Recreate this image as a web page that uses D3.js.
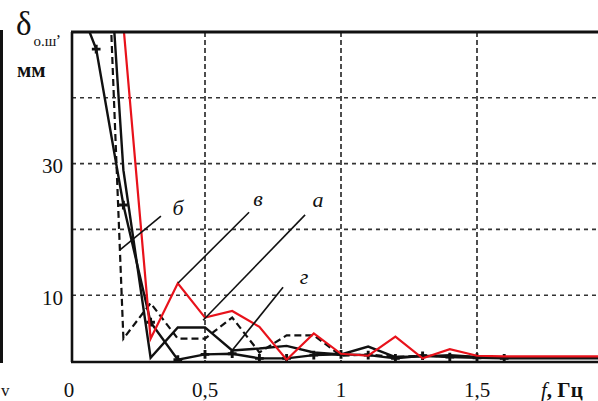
<!DOCTYPE html>
<html>
<head>
<meta charset="utf-8">
<script src="https://cdn.jsdelivr.net/npm/d3@7/dist/d3.min.js"></script>
<style>
  html, body { margin: 0; padding: 0; background: #fff; }
  svg { display: block; }
  text { font-family: "Liberation Serif", "DejaVu Serif", serif; fill: #111; }
</style>
</head>
<body>
<svg id="chart" width="598" height="401"></svg>
<script>
// Frequency grid, Hz
const freq = [0, 0.1, 0.2, 0.3, 0.4, 0.5, 0.6, 0.7, 0.8, 0.9, 1.0,
              1.1, 1.2, 1.3, 1.4, 1.5, 1.6, 1.7, 1.8, 1.9, 2.0];

// Deviation δ_о.ш, mm, for each variant
const curveA = [null, 92, 29, 0.5, 5.1, 5.1, 1.6, 1.9, 2.3, 1.3, 1.0,
                2.2, 0.6, 0.7, 0.9, 0.6, 0.5, 0.5, 0.5, 0.5, 0.5];
const curveB = [null, 108, 3.4, 8.8, 3.4, 3.4, 6.6, 1.3, 3.9, 3.9, 0.8,
                1.0, 0.6, 0.8, 0.7, 0.6, 0.6, 0.6, 0.6, 0.6, 0.6];
const curveV = [null, null, 51, 3.4, 11.8, 6.6, 7.6, 5.2, 0.2, 4.2, 1.1,
                0.8, 3.7, 0.4, 1.8, 0.8, 0.7, 0.7, 0.7, 0.7, 0.7];
const curveG = [58, 47.4, 23.7, 5.9, 0.2, 1.0, 1.1, 0.4, 0.4, 0.9, 1.0,
                0.9, 0.4, 0.8, 0.6, 0.5, 0.4, 0.4, 0.4, 0.4, 0.4];

const xTickValues = [0, 0.5, 1, 1.5];
const xTickLabels = ["0", "0,5", "1", "1,5"];
const yTickValues = [10, 30];
const yTickLabels = ["10", "30"];
const xGridValues = [0.5, 1, 1.5];
const yGridValues = [10, 20, 30, 40];

const svg = d3.select("#chart");

const x = d3.scaleLinear().domain([0, 2]).range([69, 613]);
const y = d3.scaleLinear().domain([0, 50]).range([361, 32]);

const frameLeft = 72;
const frameRight = 640;

// clip region for the plotted curves
svg.append("defs").append("clipPath").attr("id", "plotClip")
  .append("rect")
  .attr("x", frameLeft).attr("y", y(50))
  .attr("width", frameRight - frameLeft).attr("height", y(0) - y(50));

// grid
const grid = svg.append("g");
grid.selectAll("line.hg").data(yGridValues).join("line")
  .attr("class", "hg")
  .attr("x1", frameLeft).attr("x2", frameRight)
  .attr("y1", d => y(d)).attr("y2", d => y(d))
  .attr("stroke", "#333").attr("stroke-width", 1.6)
  .attr("stroke-dasharray", "4,4");
grid.selectAll("line.vg").data(xGridValues).join("line")
  .attr("class", "vg")
  .attr("x1", d => x(d)).attr("x2", d => x(d))
  .attr("y1", y(50)).attr("y2", y(0))
  .attr("stroke", "#222").attr("stroke-width", 1.6)
  .attr("stroke-dasharray", "5,3");

// curves
const plot = svg.append("g").attr("clip-path", "url(#plotClip)");
const line = d3.line()
  .defined(d => d[1] !== null)
  .x(d => x(d[0])).y(d => y(d[1]));
const pts = arr => freq.map((f, i) => [f, arr[i]]);

plot.append("path").datum(pts(curveB))
  .attr("d", line).attr("fill", "none")
  .attr("stroke", "#111").attr("stroke-width", 2.2)
  .attr("stroke-dasharray", "7,4");
plot.append("path").datum(pts(curveA))
  .attr("d", line).attr("fill", "none")
  .attr("stroke", "#111").attr("stroke-width", 2.4);
plot.append("path").datum(pts(curveG))
  .attr("d", line).attr("fill", "none")
  .attr("stroke", "#111").attr("stroke-width", 2.4);
plot.selectAll("path.mk").data(pts(curveG).filter(d => d[0] > 0 && d[0] <= 1.6))
  .join("path").attr("class", "mk")
  .attr("transform", d => `translate(${x(d[0])},${y(d[1])})`)
  .attr("d", d3.symbol().type(d3.symbolCross).size(42))
  .attr("fill", "#111");
plot.append("path").datum(pts(curveV))
  .attr("d", line).attr("fill", "none")
  .attr("stroke", "#e8121b").attr("stroke-width", 2.2);

// frame
const frame = svg.append("g").attr("stroke", "#111").attr("fill", "none");
frame.append("line").attr("x1", frameLeft - 1).attr("x2", frameRight)
  .attr("y1", y(50)).attr("y2", y(50)).attr("stroke-width", 3.2);
frame.append("line").attr("x1", frameLeft).attr("x2", frameLeft)
  .attr("y1", y(50)).attr("y2", y(0) + 1).attr("stroke-width", 2.6);
frame.append("line").attr("x1", frameLeft - 1).attr("x2", frameRight)
  .attr("y1", y(0) + 1).attr("y2", y(0) + 1).attr("stroke-width", 2.6);

// curve labels with leader lines
const notes = [
  { t: "б", lx: 0.401, ly: 23.4, a: [0.338, 22.0], b: [0.1875, 16.9] },
  { t: "в", lx: 0.695, ly: 24.8, a: [0.662, 22.6], b: [0.401, 11.85] },
  { t: "а", lx: 0.915, ly: 24.5, a: [0.868, 22.2], b: [0.493, 6.2] },
  { t: "г", lx: 0.864, ly: 12.8, a: [0.787, 11.2], b: [0.592, 1.2] }
];
const ann = svg.append("g");
ann.selectAll("line").data(notes).join("line")
  .attr("x1", d => x(d.a[0])).attr("y1", d => y(d.a[1]))
  .attr("x2", d => x(d.b[0])).attr("y2", d => y(d.b[1]))
  .attr("stroke", "#111").attr("stroke-width", 1.6);
ann.selectAll("text").data(notes).join("text")
  .attr("x", d => x(d.lx)).attr("y", d => y(d.ly))
  .attr("dy", "0.35em").attr("text-anchor", "middle")
  .attr("font-style", "italic").attr("font-size", 22)
  .text(d => d.t);

// tick labels
svg.append("g").selectAll("text").data(xTickValues).join("text")
  .attr("x", d => x(d)).attr("y", 397)
  .attr("text-anchor", "middle").attr("font-size", 21)
  .text((d, i) => xTickLabels[i]);
svg.append("g").selectAll("text").data(yTickValues).join("text")
  .attr("x", 63).attr("y", d => y(d) + 2)
  .attr("dy", "0.35em").attr("text-anchor", "end").attr("font-size", 21)
  .text((d, i) => yTickLabels[i]);

// axis titles
const xt = svg.append("text").attr("x", 541).attr("y", 397).attr("font-size", 21);
xt.append("tspan").attr("font-style", "italic").text("f");
xt.append("tspan").attr("font-weight", "bold").text(", Гц");

const yt = svg.append("text").attr("x", 16).attr("y", 35);
yt.append("tspan").attr("font-size", 33).text("δ");
yt.append("tspan").attr("font-size", 15).attr("dy", 11).attr("dx", 2).text("о.ш");
yt.append("tspan").attr("font-size", 16).attr("dy", -9).text(",");
svg.append("text").attr("x", 17).attr("y", 77)
  .attr("font-size", 21).attr("font-weight", "bold").text("мм");

// edge of the neighbouring panel
svg.append("line").attr("x1", 1.5).attr("x2", 1.5).attr("y1", 30).attr("y2", 363)
  .attr("stroke", "#111").attr("stroke-width", 3);
svg.append("text").attr("x", 1).attr("y", 396).attr("font-size", 17).text("v");
</script>
</body>
</html>
